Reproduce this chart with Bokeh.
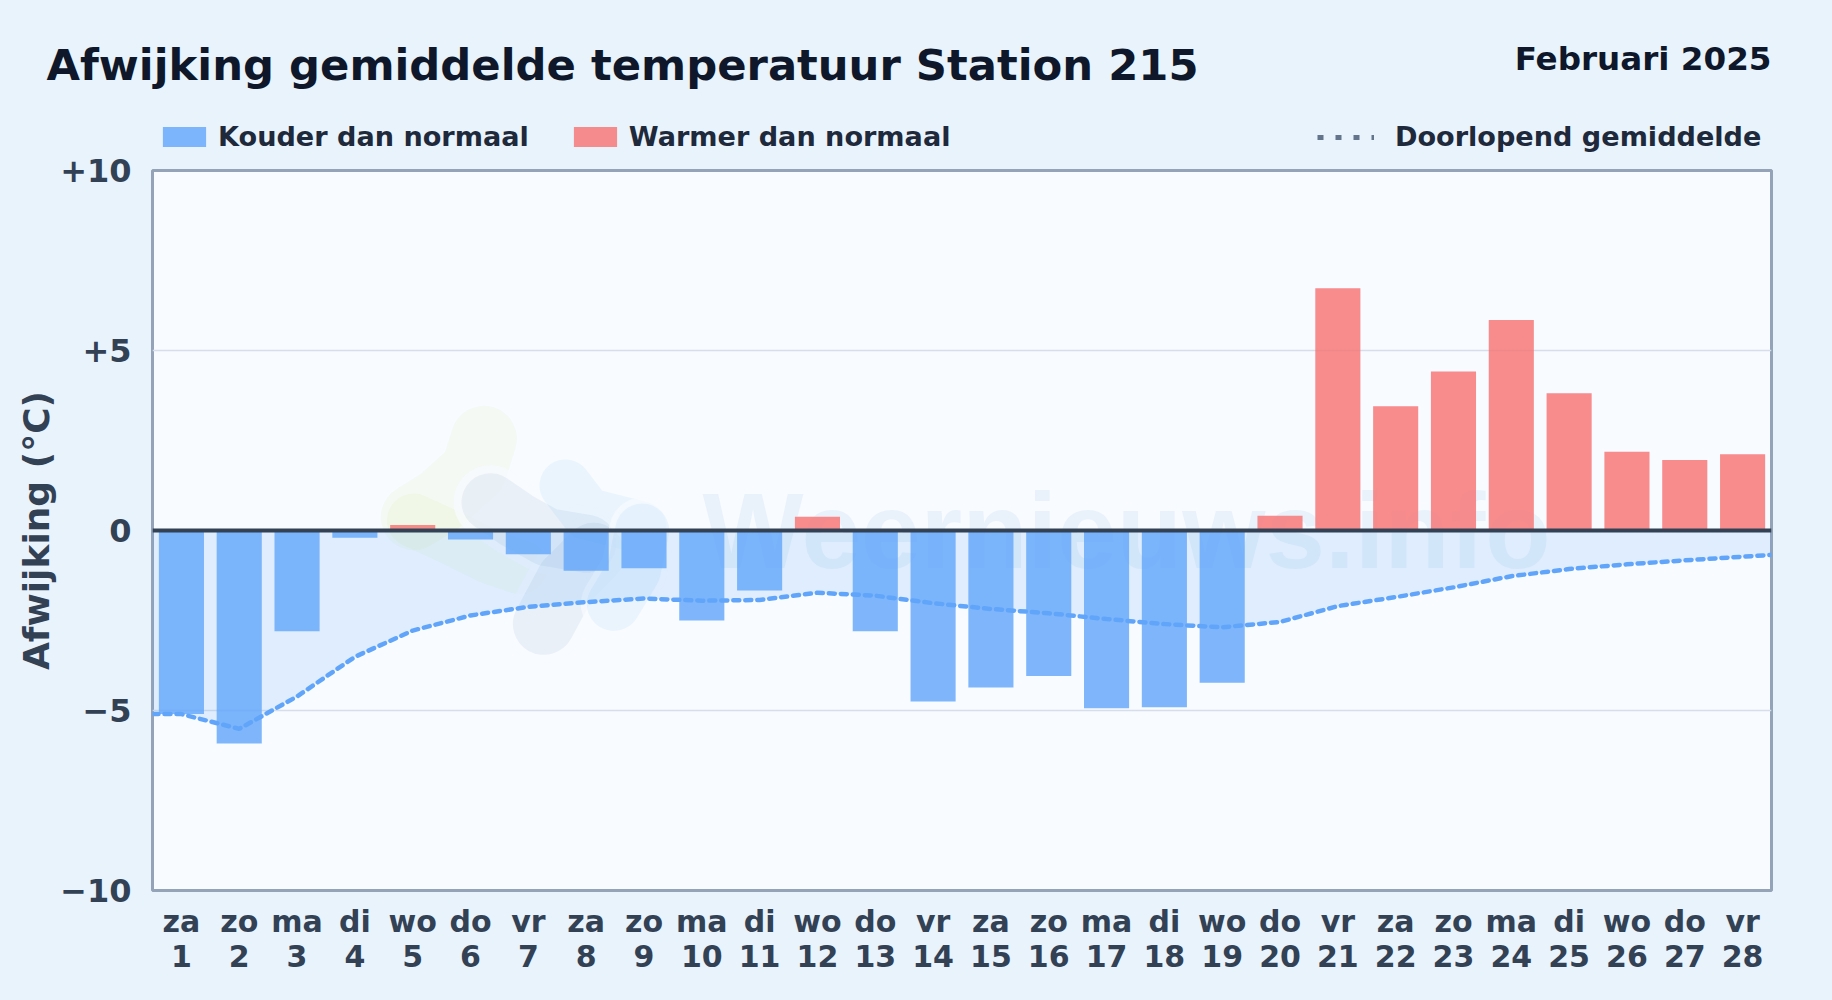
from bokeh.plotting import figure
from bokeh.layouts import column
from bokeh.models import (ColumnDataSource, FixedTicker, Label, Legend, LegendItem, Range1d, Span,
                          GlobalInlineStyleSheet)
from bokeh.embed import file_html
from bokeh.resources import INLINE

days = list(range(1, 29))
weekdays = ["za", "zo", "ma", "di", "wo", "do", "vr"] * 4
deviation = [-5.10, -5.92, -2.80, -0.20, 0.15, -0.25, -0.66, -1.12, -1.05, -2.50,
             -1.67, 0.38, -2.80, -4.75, -4.36, -4.04, -4.94, -4.91, -4.23, 0.41,
             6.73, 3.45, 4.42, 5.85, 3.81, 2.19, 1.96, 2.12]
running_x = [0.5] + days + [28.5]
running = [-5.10, -5.10, -5.51, -4.61, -3.51, -2.78, -2.36, -2.12, -1.99, -1.89, -1.95,
           -1.93, -1.73, -1.81, -2.02, -2.18, -2.30, -2.46, -2.60, -2.69, -2.54,
           -2.10, -1.85, -1.58, -1.27, -1.07, -0.94, -0.83, -0.73, -0.68]
y_ticks = [-10, -5, 0, 5, 10]
y_tick_labels = ["\u221210", "\u22125", "0", "+5", "+10"]

BG = "#e8f3fc"
PLOT_BG = "#f8fbff"
FONT = "DejaVu Sans"
W = 1816
HEAD = 153
GAP_TOP = 17                    # room above the frame for its outline and the top tick label
LEFT, FW, FH = 152, 1619, 720
TOP = HEAD + GAP_TOP
BOTTOM = 94
RIGHT = W - LEFT - FW

# ---------- header figure: title, month, legends ----------
h = figure(width=W, height=HEAD, output_backend="svg", toolbar_location=None,
           x_range=Range1d(0, W), y_range=Range1d(HEAD, 0), x_axis_location=None, y_axis_location=None,
           min_border=0, background_fill_color=BG, border_fill_color=BG, frame_align=False)
h.outline_line_color = None
h.grid.grid_line_color = None
h.add_layout(Label(x=46, y=64, text="Afwijking gemiddelde temperatuur Station 215", text_baseline="alphabetic",
                   text_font=FONT, text_font_style="bold", text_font_size="43.3px", text_color="#0f172a"))
h.add_layout(Label(x=1771, y=58, text="Februari 2025", text_align="right", text_baseline="alphabetic",
                   text_font=FONT, text_font_style="bold", text_font_size="32.6px", text_color="#0f172a"))
k_cold = h.vbar(x=[0], top=[0], width=0, fill_color="#60a5fa", fill_alpha=0.8, line_color=None)
k_warm = h.vbar(x=[0], top=[0], width=0, fill_color="#f87171", fill_alpha=0.8, line_color=None)
k_mean = h.line([0, 0], [0, 0], line_color="#64748b", line_width=5, line_dash="6 12")

def legend(items, loc, glyph_width, glyph_height, standoff, spacing):
    lg = Legend(items=items, location=loc, orientation="horizontal", padding=0, margin=0, spacing=spacing,
                background_fill_alpha=0, border_line_color=None, glyph_width=glyph_width, glyph_height=glyph_height,
                label_standoff=standoff, label_text_font=FONT, label_text_font_style="bold",
                label_text_font_size="27.1px", label_text_color="#1e293b")
    h.add_layout(lg)
legend([LegendItem(label="Kouder dan normaal", renderers=[k_cold]),
        LegendItem(label="Warmer dan normaal", renderers=[k_warm])], (157, 1), 54, 25, 7, 39)
legend([LegendItem(label="Doorlopend gemiddelde", renderers=[k_mean])], (1317, 1), 57, 20, 21, 44)

# ---------- main figure ----------
p = figure(width=W, height=GAP_TOP + FH + BOTTOM, output_backend="svg", toolbar_location=None,
           x_range=Range1d(0.5, 28.5), y_range=Range1d(-10, 10),
           frame_width=FW, frame_height=FH, frame_align=False,
           min_border_left=LEFT, min_border_right=RIGHT, min_border_top=GAP_TOP, min_border_bottom=BOTTOM,
           background_fill_color=PLOT_BG, border_fill_color=BG)
p.stylesheets = [GlobalInlineStyleSheet(css="html,body{background:%s}" % BG)]
p.outline_line_color = "#94a3b8"
p.outline_line_width = 3

p.xaxis.ticker = FixedTicker(ticks=days)
p.xaxis.major_label_overrides = {d: f"{w}\n{d}" for d, w in zip(days, weekdays)}
p.yaxis.ticker = FixedTicker(ticks=y_ticks)
p.yaxis.major_label_overrides = dict(zip(y_ticks, y_tick_labels))
for ax in (p.xaxis[0], p.yaxis[0]):
    ax.axis_line_color = None
    ax.major_tick_line_color = None
    ax.minor_tick_line_color = None
    ax.major_label_text_font = FONT
    ax.major_label_text_font_style = "bold"
    ax.major_label_text_color = "#334155"
p.xaxis.major_label_text_font_size = "30px"
p.xaxis.major_label_text_line_height = 1.0
p.yaxis.major_label_text_font_size = "32px"
p.xaxis.major_label_standoff = 7
p.yaxis.major_label_standoff = 15
p.yaxis.axis_label = "Afwijking (\u00b0C)"
p.yaxis.axis_label_text_font = FONT
p.yaxis.axis_label_text_font_style = "bold"
p.yaxis.axis_label_text_font_size = "36px"
p.yaxis.axis_label_text_color = "#334155"
p.yaxis.axis_label_standoff = 0
p.xgrid.grid_line_color = None
p.ygrid.ticker = FixedTicker(ticks=[-5, 5])
p.ygrid.grid_line_color = "#d5dfe9"
p.ygrid.grid_line_width = 1.5

# watermark logo: page pixels -> data
def dx(px):
    return [0.5 + (v - LEFT) / (FW / 28) for v in px]
def dy(py):
    return [(FH / 2 + TOP - v) / (FH / 20) for v in py]
def stroke(color, alpha, lw, pts):
    xs = [340 + a / 3 for a, b in pts]
    ys = [380 + b / 3 for a, b in pts]
    p.line(dx(xs), dy(ys), line_color=color, line_alpha=alpha, line_width=lw,
           line_cap="round", line_join="round")

GREEN, DARK, SKY = "#c6e755", "#5883af", "#44abeb"
green_a = [(430, 175), (400, 270), (300, 360), (220, 410)]
green_b = [(220, 420), (350, 480), (450, 530), (540, 560)]
dark_a = [(450, 365), (530, 420), (620, 470), (740, 490)]
dark_b = [(760, 520), (680, 600), (610, 730)]
sky_a = [(675, 315), (740, 400), (900, 440)]
sky_b = [(905, 450), (880, 570), (820, 670)]

stroke(GREEN, 0.07, 66, green_a)
stroke(GREEN, 0.07, 54, green_b)
for pts, lw in ((dark_a, 58), (dark_b, 62)):
    stroke(PLOT_BG, 0.7, lw + 16, pts)
stroke(DARK, 0.09, 58, dark_a)
stroke(DARK, 0.09, 62, dark_b)
stroke(SKY, 0.08, 52, sky_a)
stroke(PLOT_BG, 0.7, 66, sky_b)
stroke(SKY, 0.08, 54, sky_b)

p.add_layout(Label(x=dx([702])[0], y=dy([530])[0], text="Weernieuws.info", text_font="Liberation Sans",
                   text_font_size="107px", text_font_style="bold", text_baseline="alphabetic",
                   text_color="#2f7fc9", text_alpha=0.07, level="underlay"))

# running-mean area
p.varea(x=running_x, y1=[0] * len(running_x), y2=running, fill_color="#60a5fa", fill_alpha=0.16)

# bars
cold = ColumnDataSource(dict(x=[d for d, v in zip(days, deviation) if v < 0],
                             top=[v for v in deviation if v < 0]))
warm = ColumnDataSource(dict(x=[d for d, v in zip(days, deviation) if v >= 0],
                             top=[v for v in deviation if v >= 0]))
p.vbar(x="x", top="top", bottom=0, width=0.78, source=cold, fill_color="#60a5fa", fill_alpha=0.8, line_color=None)
p.vbar(x="x", top="top", bottom=0, width=0.78, source=warm, fill_color="#f87171", fill_alpha=0.8, line_color=None)

# running mean line
p.line(running_x, running, line_color="#60a5fa", line_width=4.5, line_dash="6 6", line_cap="round")

p.add_layout(Span(location=0, dimension="width", line_color="#334155", line_width=4))

page = column(h, p, spacing=0)
open("out.html", "w").write(file_html(page, INLINE))
